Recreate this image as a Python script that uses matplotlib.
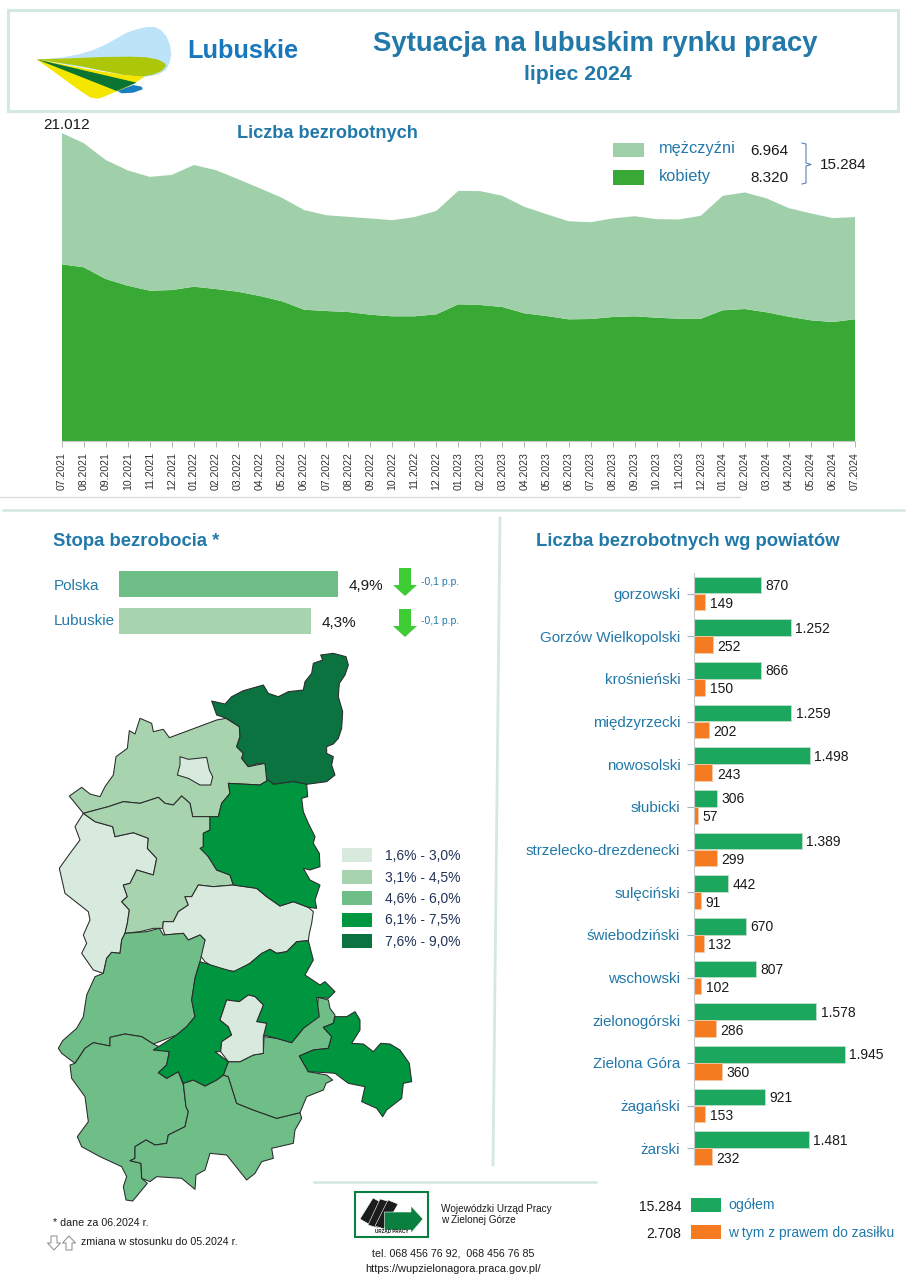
import numpy as np
import matplotlib
matplotlib.use("Agg")
import matplotlib.pyplot as plt
from matplotlib.patches import Polygon, Rectangle

plt.rcParams['font.family'] = ['Liberation Sans', 'DejaVu Sans']

# dane: liczba bezrobotnych 07.2021 - 07.2024
miesiace = ["07.2021","08.2021","09.2021","10.2021","11.2021","12.2021",
            "01.2022","02.2022","03.2022","04.2022","05.2022","06.2022",
            "07.2022","08.2022","09.2022","10.2022","11.2022","12.2022",
            "01.2023","02.2023","03.2023","04.2023","05.2023","06.2023",
            "07.2023","08.2023","09.2023","10.2023","11.2023","12.2023",
            "01.2024","02.2024","03.2024","04.2024","05.2024","06.2024","07.2024"]
ogolem_m = [21012,20320,19170,18460,18020,18160,18830,18480,17870,17240,16590,15760,
            15410,15300,15190,15070,15280,15700,17070,17050,16730,15980,15480,15000,
            14930,15190,15340,15140,15120,15370,16730,16960,16550,15890,15530,15210,15284]
kobiety = [12063,11858,11061,10604,10263,10311,10536,10379,10195,9902,9541,8969,
           8880,8812,8628,8519,8519,8655,9337,9289,9153,8723,8539,8314,
           8335,8471,8519,8423,8355,8355,8928,9016,8791,8491,8246,8130,8320]
mezczyzni = [a-b for a,b in zip(ogolem_m,kobiety)]

# powiaty
powiaty = ["gorzowski","Gorzów Wielkopolski","krośnieński","międzyrzecki","nowosolski",
           "słubicki","strzelecko-drezdenecki","sulęciński","świebodziński","wschowski",
           "zielonogórski","Zielona Góra","żagański","żarski"]
ogolem = [870,1252,866,1259,1498,306,1389,442,670,807,1578,1945,921,1481]
zasilek = [149,252,150,202,243,57,299,91,132,102,286,360,153,232]

stopa_nazwy = ["Polska","Lubuskie"]
stopa = [4.9,4.3]
klasy = ["1,6% - 3,0%","3,1% - 4,5%","4,6% - 6,0%","6,1% - 7,5%","7,6% - 9,0%"]
kolory_klas = ["#d8eadd","#a7d3ae","#6fbd87","#009640","#0a7340"]

# kontury powiatow
strzelecki = [(842,45),(880,40),(918,50),(925,75),(915,105),(898,130),(895,170),(908,215),(905,265),(895,295),
    (880,312),(860,320),(860,340),(880,350),(875,375),(885,405),(860,425),(800,433),(760,425),(700,433),(680,420),
    (675,370),(650,372),(625,380),(605,355),(610,340),(590,320),(600,290),(598,260),(560,235),(530,225),(515,183),
    (555,192),(575,170),(610,152),(670,135),(685,160),(715,170),(745,155),(790,150),(795,125),(815,100),(820,70),(848,60)]
gorzowski = [(88,468),(125,442),(150,462),(180,470),(195,440),(220,405),(228,350),(262,325),(268,272),(285,282),
    (300,235),(335,250),(340,275),(370,268),(388,293),(530,240),(558,235),(598,260),(600,290),(590,320),(610,340),
    (605,355),(625,380),(675,370),(685,420),(660,435),(565,430),(570,460),(545,490),(535,530),(458,530),(450,490),
    (425,468),(400,495),(375,490),(355,472),(300,490),(250,485),(205,500),(130,520)]
gorzow = [(420,350),(445,358),(500,352),(508,390),(518,410),(512,435),(480,435),(445,415),(412,405),(420,375)]
slubicki = [(130,520),(165,545),(218,560),(225,590),(280,578),(325,595),(322,625),(350,655),(340,705),(290,690),
    (270,730),(250,735),(262,770),(245,785),(268,810),(262,850),(255,880),(245,900),(240,940),(215,937),(200,955),
    (190,1000),(160,990),(125,940),(140,910),(130,885),(150,840),(145,815),(75,760),(58,685),(90,640),(120,600),(105,560)]
sulecinski = [(130,520),(205,500),(250,485),(300,490),(355,472),(375,490),(400,495),(425,468),(450,490),(458,530),
    (510,530),(510,570),(490,580),(490,620),(505,650),(530,690),(570,705),(580,735),(520,740),(475,735),(455,770),
    (435,770),(445,795),(415,815),(400,845),(370,845),(368,865),(340,865),(300,875),(255,880),(262,850),(268,810),
    (245,785),(262,770),(250,735),(270,730),(290,690),(340,705),(350,655),(322,625),(325,595),(280,578),(225,590),
    (218,560),(165,545)]
miedzyrzecki = [(565,430),(660,435),(685,420),(700,433),(760,425),(800,433),(803,470),(785,475),(790,515),(805,550),
    (825,590),(820,610),(838,640),(840,680),(810,690),(790,685),(810,720),(840,735),(825,780),(830,805),(805,802),
    (760,785),(720,798),(680,770),(650,745),(580,735),(570,705),(530,690),(505,650),(480,625),(490,620),(490,580),
    (510,570),(510,530),(535,530),(545,490),(570,460)]
swiebodzinski = [(370,845),(400,845),(415,815),(445,795),(435,770),(455,770),(475,735),(520,740),(580,735),(650,745),
    (680,770),(720,798),(760,785),(805,802),(820,815),(815,850),(808,880),(805,902),(770,905),(740,935),
    (710,940),(690,928),(660,945),(630,970),(590,995),(550,990),(545,998),(495,965),(480,945),(495,900),(480,885),
    (445,900),(430,880),(375,885),(368,865)]
# ponizsze w ukladzie dolnego wycinka (y+840)
krosnienski = [(255,40),(320,35),(358,25),(370,45),(430,40),(445,60),(480,45),(495,60),(480,125),(465,175),(455,240),
    (465,290),(440,320),(410,345),(340,372),(305,350),(255,342),(210,352),(210,378),(160,368),(135,385),(105,430),
    (65,400),(55,385),(68,362),(110,325),(130,290),(140,225),(165,170),(190,160),(200,115),(215,97),(240,100),(245,60)]
zarski = [(90,435),(105,430),(135,385),(160,368),(210,378),(210,352),(255,342),(305,350),(340,372),(388,395),(380,435),
    (355,458),(380,475),(415,455),(430,495),(438,560),(445,575),(435,620),(385,645),(380,670),(345,675),(318,660),
    (285,680),(285,715),(270,722),(303,730),(305,775),(322,790),(278,843),(258,840),(250,800),(260,770),(245,740),
    (180,710),(125,680),(112,650),(145,605),(135,530),(95,475)]
zaganski = [(430,490),(460,480),(495,498),(530,480),(550,465),(565,470),(590,550),(640,570),(710,595),(780,578),(785,595),
    (765,630),(760,670),(695,685),(700,715),(665,725),(645,760),(620,780),(560,705),(510,700),(495,750),(468,765),
    (465,808),(425,775),(350,770),(330,785),(305,775),(303,730),(270,722),(285,715),(285,680),(318,660),(345,675),
    (380,670),(385,645),(435,620),(445,575),(438,560)]
nowosolski = [(565,425),(600,425),(640,405),(670,400),(672,350),(710,355),(755,368),(790,325),(830,290),(835,232),
    (865,240),(870,265),(885,285),(880,310),(850,322),(875,350),(865,385),(820,390),(778,408),(805,455),(860,465),
    (878,480),(858,490),(850,510),(800,530),(780,578),(710,595),(640,570),(590,550),(565,470),(550,465)]
zielonogorski = [(480,125),(545,145),(580,155),(630,130),(665,100),(690,88),(710,100),(740,95),(770,65),(805,62),(820,120),
    (795,165),(840,195),(855,185),(885,215),(865,235),(830,232),(838,290),(790,325),(755,368),(710,355),(670,345),
    (680,310),(650,305),(670,255),(645,230),(625,225),(598,245),(560,240),(540,300),(565,320),(575,345),(545,365),
    (542,395),(525,395),(565,425),(550,465),(530,480),(495,498),(460,480),(430,490),(415,455),(380,475),(355,458),
    (380,435),(388,395),(340,390),(410,345),(440,320),(465,290),(455,240),(465,175)]
zielona_gora = [(560,240),(598,245),(625,225),(645,230),(670,255),(650,305),(680,310),(670,350),(670,400),(640,405),
    (600,425),(565,425),(542,395),(545,365),(575,345),(565,320),(540,300)]
wschowski = [(885,290),(920,290),(945,275),(960,300),(960,330),(935,370),(970,372),(1000,395),(1022,370),(1050,372),
    (1080,390),(1108,430),(1115,485),(1090,490),(1085,535),(1040,570),(1028,590),(1010,565),(965,545),(975,500),
    (925,490),(885,460),(860,458),(805,455),(778,408),(820,390),(865,385),(875,350),(850,322),(880,310)]

W,H = 907,1286
DPI = 100
NIEBIESKI = "#2279a9"
CZARNY = "#1a1a1a"
BLADY = "#d3e8df"

fig = plt.figure(figsize=(W/DPI,H/DPI),dpi=DPI,facecolor="white")

def osie(l,t,r,b):
    return fig.add_axes([l/W,1-b/H,(r-l)/W,(b-t)/H])

# nakladka w pikselach
ax0 = fig.add_axes([0,0,1,1],zorder=5)
ax0.set_xlim(0,W)
ax0.set_ylim(H,0)
ax0.axis("off")

def napis(x,y,s,size=10,color=CZARNY,bold=False,ha="left",va="center"):
    ax0.text(x,y,s,fontsize=size,color=color,fontweight="bold" if bold else "normal",ha=ha,va=va)

def wielokat(pts,kolor,edge="none",lw=0,dx=0,dy=0,skala=1.0):
    p = np.array(pts,float)*skala+np.array([dx,dy])
    ax0.add_patch(Polygon(p,closed=True,facecolor=kolor,edgecolor=edge,linewidth=lw,joinstyle="round"))

# naglowek
ax0.add_patch(Rectangle((8,10),890,101,fill=False,edgecolor=BLADY,linewidth=2.2))
napis(595,44,"Sytuacja na lubuskim rynku pracy",19.8,NIEBIESKI,True,"center")
napis(578,75,"lipiec 2024",15.3,NIEBIESKI,True,"center")
napis(187,51,"Lubuskie",18.3,"#1778bd",True)

# logo
logo = dict(dx=30,dy=20,skala=1/3)
wielokat([(20,118),(60,116),(100,112),(150,102),(190,90),(230,72),(260,55),(290,38),(320,28),(350,21),(375,21),(395,32),
          (410,50),(420,75),(424,100),(420,125),(408,150),(385,163),(340,172),(200,150)],"#bde3f9",**logo)
wielokat([(20,118),(120,115),(220,111),(300,110),(350,112),(385,119),(405,130),(408,138),(395,153),(365,165),(330,170),
          (280,165),(160,140)],"#adc607",**logo)
wielokat([(20,118),(160,145),(280,165),(345,170),(320,185),(285,205),(250,218),(215,233),(200,236),(180,232),(150,212)],"#f5e600",**logo)
wielokat([(262,213),(310,195),(335,200),(338,208),(310,218),(275,220)],"#1a7fc1",**logo)
wielokat([(20,118),(320,188),(260,213)],"#0a7432",**logo)

# wykres warstwowy
ax1 = osie(61.7,133,855,441.3)
x = np.arange(len(miesiace))
ax1.stackplot(x,kobiety,mezczyzni,colors=["#38a935","#9fd0a9"],linewidth=0)
ax1.set_xlim(0,len(miesiace)-1)
ax1.set_ylim(0,21012)
ax1.set_yticks([])
ax1.set_xticks(x)
ax1.set_xticklabels(miesiace,rotation=90,fontsize=7.6,color="#333333")
ax1.tick_params(axis="x",length=4.5,width=0.7,color="#b5b5b5",pad=3)
for s in ["top","left","right"]:
    ax1.spines[s].set_visible(False)
ax1.spines["bottom"].set_color("#c8c8c8")

napis(43,125,"21.012",11)
napis(237,134,"Liczba bezrobotnych",13.1,NIEBIESKI,True)
ax0.add_patch(Rectangle((613,143),31,14,facecolor="#9fd0a9",edgecolor="none"))
ax0.add_patch(Rectangle((613,170),31,15,facecolor="#38a935",edgecolor="none"))
napis(659,148.5,"mężczyźni",11.8,NIEBIESKI)
napis(659,177,"kobiety",11.8,NIEBIESKI)
napis(750,151,"6.964",11)
napis(750,178,"8.320",11)
napis(820,165,"15.284",11)
ax0.plot([802,806,806,811,806,806,802],[143,144,163,164.5,166,183,184],color="#5b7fb5",lw=0.8)

# linie podzialu
ax0.plot([0,740],[497,497],color="#d8d8d8",lw=0.9)
ax0.plot([3,904],[509.5,509.5],color=BLADY,lw=1.8)
ax0.plot([500,493],[518,1165],color=BLADY,lw=2)
ax0.plot([314,596],[1182,1182],color=BLADY,lw=1.8)

# stopa bezrobocia
napis(53,541,"Stopa bezrobocia *",13.3,NIEBIESKI,True)
ax2 = osie(119,565,440,640)
ax2.barh([0,1],stopa,height=26/37,color=["#6fbd87","#a7d3ae"])
ax2.set_xlim(0,(440-119)/44.7)
ax2.set_ylim(1+19/37,-19/37)
ax2.axis("off")
napis(54,586,stopa_nazwy[0],11,NIEBIESKI)
napis(54,621,stopa_nazwy[1],11,NIEBIESKI)
napis(349,586.5,"4,9%",11)
napis(322,623,"4,3%",11)
strzalka = [(-6,0),(6,0),(6,17),(12,17),(0,28),(-12,17),(-6,17)]
wielokat(strzalka,"#3dcc33",dx=405,dy=568)
wielokat(strzalka,"#3dcc33",dx=405,dy=609)
napis(421,582,"-0,1 p.p.",7.5,NIEBIESKI)
napis(421,621.5,"-0,1 p.p.",7.5,NIEBIESKI)

# mapa
mapa = dict(edge="#2a2a2a",lw=0.75,dx=40,dy=640,skala=1/3)
def dol(pts):
    return [(a,b+840) for a,b in pts]
wielokat(gorzowski,kolory_klas[1],**mapa)
wielokat(slubicki,kolory_klas[0],**mapa)
wielokat(sulecinski,kolory_klas[1],**mapa)
wielokat(swiebodzinski,kolory_klas[0],**mapa)
wielokat(dol(krosnienski),kolory_klas[2],**mapa)
wielokat(dol(zarski),kolory_klas[2],**mapa)
wielokat(dol(zaganski),kolory_klas[2],**mapa)
wielokat(dol(nowosolski),kolory_klas[2],**mapa)
wielokat(strzelecki,kolory_klas[4],**mapa)
wielokat(miedzyrzecki,kolory_klas[3],**mapa)
wielokat(dol(zielonogorski),kolory_klas[3],**mapa)
wielokat(dol(wschowski),kolory_klas[3],**mapa)
wielokat(gorzow,kolory_klas[0],**mapa)
wielokat(dol(zielona_gora),kolory_klas[0],**mapa)

for i,(k,c) in enumerate(zip(klasy,kolory_klas)):
    y0 = 848+21.5*i
    ax0.add_patch(Rectangle((342,y0),30,14,facecolor=c,edgecolor="none"))
    napis(385,y0+8,k,10,"#223355")

# powiaty - slupki
napis(536,542,"Liczba bezrobotnych wg powiatów",13.3,NIEBIESKI,True)
ax3 = osie(693.5,572.2,907,1169.5)
y = np.arange(len(powiaty))
ax3.barh(y-0.2,ogolem,height=0.395,color="#1ba85e",edgecolor="#c4dccb",linewidth=0.6)
ax3.barh(y+0.2,zasilek,height=0.395,color="#f47b20",edgecolor="#f5c9a8",linewidth=0.6)
ax3.set_xlim(0,(907-693.5)/0.0778)
ax3.set_ylim(len(powiaty)-0.5,-0.5)
ax3.set_yticks(y)
ax3.set_yticklabels(powiaty,fontsize=10.9,color=NIEBIESKI)
ax3.set_xticks([])
ax3.tick_params(axis="y",length=5,width=0.8,color="#9db4c4",pad=4.5)
for s in ["top","right","bottom"]:
    ax3.spines[s].set_visible(False)
ax3.spines["left"].set_color("#c8c8c8")
ax3.spines["left"].set_bounds(-0.48,13.4)
for i in range(len(powiaty)):
    ax3.annotate(f"{ogolem[i]:,}".replace(",","."),(ogolem[i],i-0.2),xytext=(3.2,-0.7),textcoords="offset points",
                 va="center",fontsize=10,color=CZARNY)
    ax3.annotate(f"{zasilek[i]:,}".replace(",","."),(zasilek[i],i+0.2),xytext=(3.2,-1.4),textcoords="offset points",
                 va="center",fontsize=10,color=CZARNY)

# legenda powiatow
napis(681,1207,"15.284",10,ha="right")
napis(681,1234,"2.708",10,ha="right")
ax0.add_patch(Rectangle((691,1198),30,14,facecolor="#1ba85e",edgecolor="none"))
ax0.add_patch(Rectangle((691,1225),30,14,facecolor="#f47b20",edgecolor="none"))
napis(728,1205,"ogółem",10.2,NIEBIESKI)
napis(728,1233.5,"w tym z prawem do zasiłku",10,NIEBIESKI)

# stopka
napis(53,1223,"* dane za 06.2024 r.",7.7)
napis(81,1242,"zmiana w stosunku do 05.2024 r.",7.65)
kontur = [(-3,0),(3,0),(3,7),(6.5,7),(0,14),(-6.5,7),(-3,7)]
wielokat(kontur,"white",edge="#8a8a8a",lw=0.7,dx=54,dy=1236)
wielokat([(a,-b) for a,b in kontur],"white",edge="#8a8a8a",lw=0.7,dx=69,dy=1250)

ax0.add_patch(Rectangle((354.5,1192),73,45,facecolor="white",edgecolor="#0a8040",linewidth=1.5))
for pkt in [[(373,1198),(360,1219),(372,1226),(384,1204)],
            [(380,1199),(368,1225),(378,1228),(391,1202)],
            [(388,1200),(375,1226),(384,1229),(398,1204)]]:
    wielokat(pkt,"#1c1c1c",edge="white",lw=0.4)
wielokat([(384.5,1212),(411,1212),(411,1206),(423,1219),(411,1233),(411,1230),(384.5,1230)],"#0a8040",edge="white",lw=0.4)
napis(392,1232,"URZĄD PRACY",3.3,CZARNY,True,"center")
napis(441,1209,"Wojewódzki Urząd Pracy",7.2)
napis(441,1220,"w Zielonej Górze",7.2)
napis(453,1253,"tel. 068 456 76 92,  068 456 76 85",7.7,ha="center")
napis(453,1269,"https://wupzielonagora.praca.gov.pl/",7.9,ha="center")

fig.savefig("out.png",dpi=DPI)
